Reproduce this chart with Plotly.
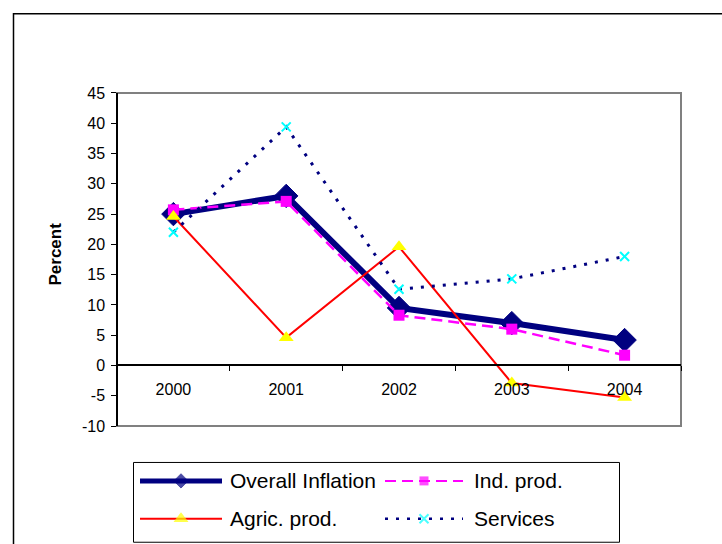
import plotly.graph_objects as go

# Canvas size in pixels
W, H = 722, 544

# Data: inflation by component (percent)
years = ["2000", "2001", "2002", "2003", "2004"]
overall = [25.0, 28.0, 9.5, 7.0, 4.2]
ind_prod = [25.7, 27.1, 8.3, 6.0, 1.7]
agric_prod = [24.6, 4.6, 19.6, -2.9, -5.3]
services = [22.0, 39.4, 12.6, 14.3, 18.0]
y_ticks = list(range(-10, 50, 5))
series_names = ["Overall Inflation", "Ind. prod.", "Agric. prod.", "Services"]

FONT = "Liberation Sans, Arial, sans-serif"
NAVY = "#000080"
MAGENTA = "#FF00FF"
RED = "#FF0000"
YELLOW = "#FFFF00"
CYAN = "#00FFFF"

# vertical page offset/scale of the rendered page
V_OFF, V_SCALE = 7.8, 0.9714


def fx(px):
    return px / W


def fy(py):
    return 1 - ((py - V_OFF) / V_SCALE) / H


# plot box (pixels)
PL, PR, PT, PB = 117, 681, 93, 427
Y_MIN, Y_MAX = -10, 45
y_dom = [fy(PB), fy(PT)]
zero_pos = y_dom[0] + (0 - Y_MIN) / (Y_MAX - Y_MIN) * (y_dom[1] - y_dom[0])

styles = [
    dict(line=dict(color=NAVY, width=6),
         marker=dict(symbol="diamond", size=18, color=NAVY, line=dict(color=NAVY, width=1))),
    dict(line=dict(color=MAGENTA, width=2.5, dash="11px,6px"),
         marker=dict(symbol="square", size=11, color=MAGENTA, line=dict(color=MAGENTA, width=0))),
    dict(line=dict(color=RED, width=2),
         marker=dict(symbol="triangle-up", size=13, color=YELLOW, line=dict(color=YELLOW, width=0))),
    dict(line=dict(color=NAVY, width=3, dash="3px,8px"),
         marker=dict(symbol="x-thin", size=9, color=CYAN, line=dict(color=CYAN, width=2))),
]

fig = go.Figure()
for name, vals, st in zip(series_names, [overall, ind_prod, agric_prod, services], styles):
    fig.add_trace(go.Scatter(x=years, y=vals, name=name, mode="lines+markers",
                             line=st["line"], marker=st["marker"],
                             showlegend=False, hoverinfo="skip",
                             xaxis="x", yaxis="y", cliponaxis=False))

# Hand-drawn legend on an overlay paper-coordinate axis
legend_rows = [
    (140, 222, 482, 228),   # Overall Inflation
    (385, 463, 482, 472),   # Ind. prod.
    (140, 222, 520, 228),   # Agric. prod.
    (385, 463, 520, 472),   # Services
]
legend_marker_sizes = [11, 9, 13, 9]
legend_line_widths = [5, 2, 2, 2.5]
for name, st, (x0, x1, yy, tx), ms, lw in zip(series_names, styles, legend_rows,
                                               legend_marker_sizes, legend_line_widths):
    line = dict(st["line"])
    line["width"] = lw
    marker = dict(st["marker"])
    marker["size"] = [0, ms, 0]
    fig.add_trace(go.Scatter(x=[fx(x0), fx((x0 + x1) / 2), fx(x1)], y=[fy(yy)] * 3,
                             mode="lines+markers", line=line, marker=marker,
                             showlegend=False, hoverinfo="skip", xaxis="x2", yaxis="y2"))
    fig.add_annotation(x=fx(tx), y=fy(yy), xref="paper", yref="paper", text=name,
                       showarrow=False, xanchor="left", yanchor="middle",
                       font=dict(family=FONT, size=21, color="black"))

# Y-axis title
fig.add_annotation(x=fx(56), y=fy(254), xref="paper", yref="paper", text="<b>Percent</b>",
                   textangle=-90, showarrow=False, xanchor="center", yanchor="middle",
                   font=dict(family=FONT, size=17, color="black"))

shapes = [
    # outer chart frame
    dict(type="rect", xref="paper", yref="paper", x0=fx(13.5), x1=1.05, y0=-0.05, y1=fy(13.5),
         line=dict(color="black", width=1.5), layer="below"),
    # plot area border
    dict(type="rect", xref="paper", yref="paper", x0=fx(PL), x1=fx(PR), y0=fy(PB), y1=fy(PT),
         line=dict(color="#808080", width=2), layer="below"),
    # legend box
    dict(type="rect", xref="paper", yref="paper", x0=fx(133.5), x1=fx(619.5), y0=fy(543.5), y1=fy(463.5),
         line=dict(color="black", width=1), layer="below"),
]

fig.update_layout(
    width=W, height=H,
    margin=dict(l=0, r=0, t=0, b=0),
    paper_bgcolor="white", plot_bgcolor="rgba(0,0,0,0)",
    shapes=shapes,
    showlegend=False,
    xaxis=dict(type="category", domain=[fx(PL), fx(PR)], range=[-0.5, 4.5],
               anchor="free", position=zero_pos,
               showline=True, linecolor="black", linewidth=1.5,
               ticks="outside", ticklen=5, tickcolor="black", tickwidth=1, tickson="boundaries",
               tickfont=dict(family=FONT, size=16, color="black"),
               ticklabelstandoff=10,
               showgrid=False, zeroline=False, fixedrange=True),
    yaxis=dict(domain=y_dom, range=[Y_MIN, Y_MAX], anchor="free", position=fx(PL),
               tickvals=y_ticks, ticktext=[str(v) for v in y_ticks],
               showline=True, linecolor="black", linewidth=1.5,
               ticks="outside", ticklen=5, tickcolor="black", tickwidth=1,
               tickfont=dict(family=FONT, size=16, color="black"),
               ticklabelstandoff=3,
               showgrid=False, zeroline=False, fixedrange=True),
    xaxis2=dict(domain=[0, 1], range=[0, 1], visible=False, fixedrange=True, anchor="y2"),
    yaxis2=dict(domain=[0, 1], range=[0, 1], visible=False, fixedrange=True, anchor="x2"),
)

fig.write_html("out.html", config={"displayModeBar": False})
